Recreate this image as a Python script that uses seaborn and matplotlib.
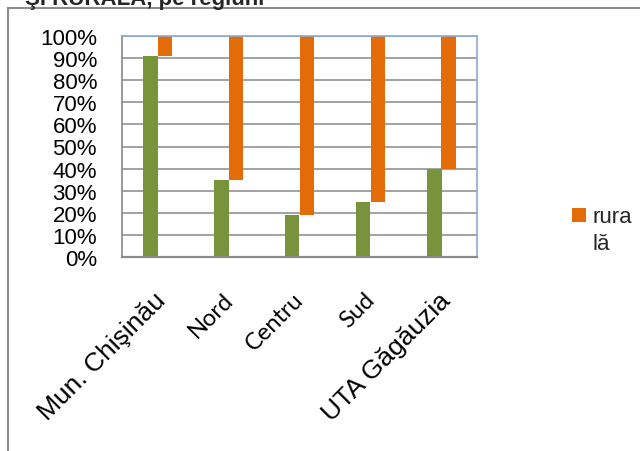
import matplotlib
matplotlib.use('Agg')
import pandas as pd
import matplotlib.pyplot as plt
import matplotlib.transforms as mtransforms
from matplotlib.patches import Rectangle, Patch
from matplotlib.legend_handler import HandlerPatch
from matplotlib.ticker import FuncFormatter, MultipleLocator
import seaborn as sns

regions = ['Mun. Chişinău', 'Nord', 'Centru', 'Sud', 'UTA Găgăuzia']
urban = [91, 35, 19, 25, 40]
rural = [9, 65, 81, 75, 60]
series_names = ['urbană', 'rurală']
legend_label = 'rura\nlă'
title_text = 'ŞI RURALĂ, pe regiuni'

green = '#77933C'
orange = '#E36C09'

sns.set_style('white')
plt.rcParams['font.family'] = ['Liberation Sans', 'DejaVu Sans']

df = pd.DataFrame({
    'regiune': regions * 2,
    'serie': [series_names[0]] * len(regions) + [series_names[1]] * len(regions),
    'pct': urban + rural,
})

fig = plt.figure(figsize=(6.4, 4.52), dpi=100)
ax = fig.add_axes([122 / 640, 1 - 258 / 452, 355 / 640, 221 / 452])

sns.barplot(data=df, x='regiune', y='pct', hue='serie', palette=[green, orange],
            width=0.4, dodge=True, saturation=1, legend=False, ax=ax)

# rural bars start where the urban share ends
for bar, base in zip(ax.containers[1], urban):
    bar.set_y(base)
for bar in list(ax.containers[0]) + list(ax.containers[1]):
    bar.set_linewidth(0)

ax.set_ylim(0, 100)
ax.set_xlim(-0.5, len(regions) - 0.5)
ax.yaxis.set_major_locator(MultipleLocator(10))
ax.yaxis.set_major_formatter(FuncFormatter(lambda v, p: f'{int(v)}%'))
ax.grid(axis='y', color='#898989', linewidth=1.1)
ax.set_axisbelow(True)
ax.set_xlabel('')
ax.set_ylabel('')

for side in ['left', 'bottom']:
    ax.spines[side].set_color('#898989')
    ax.spines[side].set_linewidth(1.2)
ax.spines['bottom'].set_linewidth(1.6)
for side in ['top', 'right']:
    ax.spines[side].set_color('#8EA9D3')
    ax.spines[side].set_linewidth(1.2)

ax.tick_params(axis='y', length=0, pad=18, labelsize=16, labelcolor='black')
ax.tick_params(axis='x', length=0, pad=28, labelsize=19, labelcolor='black')

shift = mtransforms.ScaledTranslation(5 / 100, 0, fig.dpi_scale_trans)
small_shift = mtransforms.ScaledTranslation(1 / 100, 0, fig.dpi_scale_trans)
for lab in ax.get_xticklabels():
    lab.set_rotation(45)
    lab.set_ha('right')
    lab.set_va('center')
    lab.set_rotation_mode('anchor')
    if lab.get_text() in ('Nord', 'Centru', 'Sud'):
        lab.set_family(['Lato', 'DejaVu Sans'])
        lab.set_fontsize(17)
        lab.set_transform(lab.get_transform() + small_shift)
    else:
        lab.set_transform(lab.get_transform() + shift)


def top_square(legend, orig_handle, xdescent, ydescent, width, height, fontsize):
    # put the square next to the first line of the wrapped label
    return Rectangle((-xdescent, -ydescent + 0.7 * fontsize), width, width)


leg = ax.legend(handles=[Patch(facecolor=orange, edgecolor='none', label=legend_label)],
                loc='upper left', bbox_to_anchor=(572 / 640, 1 - 207 / 452),
                bbox_transform=fig.transFigure, frameon=False, fontsize=16,
                handlelength=0.62, handleheight=0.62, handletextpad=0.32,
                borderpad=0, borderaxespad=0,
                handler_map={Patch: HandlerPatch(patch_func=top_square)})
for t in leg.get_texts():
    t.set_linespacing(1.4)

# outer chart border (runs off the right and bottom edges)
fig.patches.append(Rectangle((8 / 640, -0.05), 1.2, 1 - 9 / 452 + 0.05,
                             transform=fig.transFigure, fill=False,
                             edgecolor='#8C8C8C', linewidth=1.5))

fig.text(25 / 640, 1 - 5 / 452, title_text, fontsize=16, fontweight='bold',
         va='baseline', ha='left')

fig.savefig('out.png', dpi=100)
